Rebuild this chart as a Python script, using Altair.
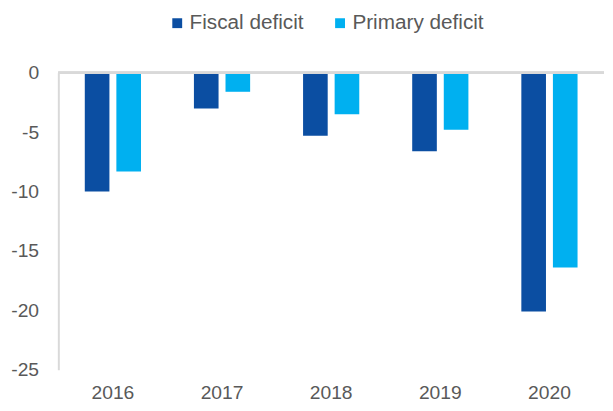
import altair as alt
import pandas as pd

years = ["2016", "2017", "2018", "2019", "2020"]
fiscal = [-10.0, -3.0, -5.3, -6.6, -20.1]
primary = [-8.3, -1.6, -3.5, -4.8, -16.4]
series = ["Fiscal deficit", "Primary deficit"]
colors = ["#0b4ea2", "#00b0f0"]

rows = []
for i, y in enumerate(years):
    rows.append({"year": y, "series": series[0], "value": fiscal[i]})
    rows.append({"year": y, "series": series[1], "value": primary[i]})
df = pd.DataFrame(rows)

FONT = "Liberation Sans"
TXT = "#595959"
GRAY = "#d9d9d9"

bars = alt.Chart(df).mark_bar().encode(
    x=alt.X("year:N", sort=years,
            scale=alt.Scale(paddingInner=0.485, paddingOuter=0.2425),
            axis=alt.Axis(title=None, labelAngle=0, domain=False, ticks=False,
                          labelPadding=14, labelFontSize=19.5, labelColor=TXT,
                          labelFont=FONT)),
    xOffset=alt.XOffset("series:N", sort=series,
                        scale=alt.Scale(paddingInner=0.22, paddingOuter=0)),
    y=alt.Y("value:Q", scale=alt.Scale(domain=[-25, 0], nice=False),
            axis=alt.Axis(title=None, values=[0, -5, -10, -15, -20, -25],
                          labelExpr="toString(datum.value)",
                          grid=False, ticks=False, domain=True,
                          domainColor=GRAY, domainWidth=2,
                          labelPadding=20, labelFontSize=19.5, labelColor=TXT,
                          labelFont=FONT)),
    color=alt.Color("series:N", sort=series,
                    scale=alt.Scale(domain=series, range=colors),
                    legend=alt.Legend(title=None, orient="none",
                                      direction="horizontal",
                                      legendX=110, legendY=-61,
                                      symbolType="square", symbolSize=100,
                                      symbolStrokeWidth=0,
                                      labelFontSize=21, labelColor=TXT,
                                      labelFont=FONT, labelOffset=2,
                                      columnPadding=26, padding=0)),
)

zero = alt.Chart(df).mark_rule(color=GRAY, strokeWidth=2).encode(
    y=alt.datum(0)
)

chart = alt.layer(bars, zero).properties(
    width=553, height=301,
    autosize=alt.AutoSizeParams(type="none"),
    padding={"left": 51, "top": 63, "right": 1, "bottom": 30},
).configure_view(stroke=None)

chart.save("out.html", embed_options={"renderer": "svg", "actions": False})
